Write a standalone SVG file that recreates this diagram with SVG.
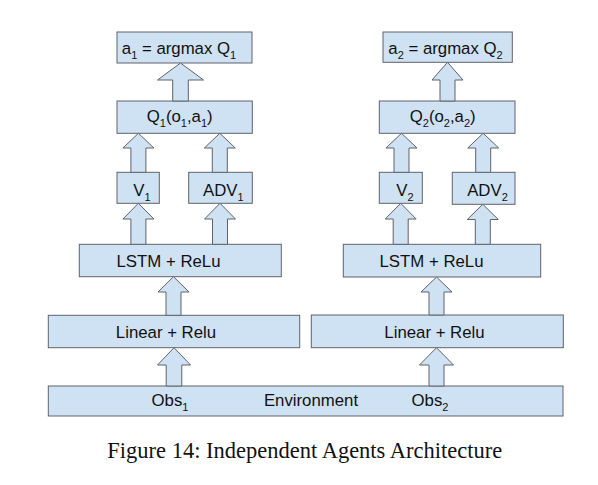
<svg xmlns="http://www.w3.org/2000/svg" width="598" height="485" viewBox="0 0 598 485">
<style>
.box{fill:#cfe2f3;stroke:#5f6368;stroke-width:1}
.arr{fill:#cfe2f3;stroke:#5f6368;stroke-width:1;stroke-linejoin:miter}
.t{font-family:"Liberation Sans",Arial,sans-serif;font-size:16.8px;fill:#111;text-anchor:middle}
.s{font-size:11px}
.cap{font-family:"Liberation Serif","Times New Roman",serif;font-size:22.5px;fill:#111}
</style>
<rect width="598" height="485" fill="#fff"/>
<g id="env"><rect class="box" x="48.3" y="386" width="514.7" height="30"/>
<text class="t" x="170" y="406">Obs<tspan class="s" dy="5">1</tspan></text>
<text class="t" x="311" y="406">Environment</text>
<text class="t" x="430" y="406">Obs<tspan class="s" dy="5">2</tspan></text></g>
<g id="linear1"><rect class="box" x="48.3" y="315.3" width="251.4" height="32.4"/><text class="t" x="166" y="338">Linear + Relu</text></g>
<g id="linear2"><rect class="box" x="311.3" y="315" width="252" height="32.7"/><text class="t" x="434.5" y="338">Linear + Relu</text></g>
<g id="lstm1"><rect class="box" x="79.3" y="244.3" width="202" height="32.4"/><text class="t" x="168.5" y="267">LSTM + ReLu</text></g>
<g id="lstm2"><rect class="box" x="343.3" y="244.3" width="197.4" height="32.7"/><text class="t" x="431.5" y="267">LSTM + ReLu</text></g>
<g id="v1"><rect class="box" x="117" y="172.3" width="42.3" height="31"/><text class="t" x="142" y="196">V<tspan class="s" dy="5">1</tspan></text></g>
<g id="adv1"><rect class="box" x="188.7" y="172.3" width="63.6" height="31"/><text class="t" x="223.3" y="196">ADV<tspan class="s" dy="5">1</tspan></text></g>
<g id="v2"><rect class="box" x="379.3" y="172.3" width="43" height="31"/><text class="t" x="405" y="196">V<tspan class="s" dy="5">2</tspan></text></g>
<g id="adv2"><rect class="box" x="452.3" y="172.3" width="62.7" height="32"/><text class="t" x="487.5" y="196">ADV<tspan class="s" dy="5">2</tspan></text></g>
<g id="q1"><rect class="box" x="117" y="101" width="135.3" height="32.3"/><text class="t" x="179.7" y="122">Q<tspan class="s" dy="5">1</tspan><tspan dy="-5">(o</tspan><tspan class="s" dy="5">1</tspan><tspan dy="-5">,a</tspan><tspan class="s" dy="5">1</tspan><tspan dy="-5">)</tspan></text></g>
<g id="q2"><rect class="box" x="379.3" y="101" width="135.7" height="32.3"/><text class="t" x="442.7" y="122">Q<tspan class="s" dy="5">2</tspan><tspan dy="-5">(o</tspan><tspan class="s" dy="5">2</tspan><tspan dy="-5">,a</tspan><tspan class="s" dy="5">2</tspan><tspan dy="-5">)</tspan></text></g>
<g id="a1"><rect class="box" x="117" y="32" width="135" height="31"/><text class="t" x="179" y="53.5">a<tspan class="s" dy="5">1</tspan><tspan dy="-5"> = argmax Q</tspan><tspan class="s" dy="5">1</tspan></text></g>
<g id="a2"><rect class="box" x="383" y="32" width="129.3" height="30.3"/><text class="t" x="445.5" y="53.5">a<tspan class="s" dy="5">2</tspan><tspan dy="-5"> = argmax Q</tspan><tspan class="s" dy="5">2</tspan></text></g>
<g id="connectors">
<polygon class="arr" points="180.5,63 203.5,80 188.3,80 188.3,101 172.7,101 172.7,80 157.5,80"/>
<polygon class="arr" points="447.5,62.3 463,80 455,80 455,101 440,101 440,80 432,80"/>
<polygon class="arr" points="138.4,133.3 153.9,148 145.9,148 145.9,172.3 130.9,172.3 130.9,148 122.9,148"/>
<polygon class="arr" points="219.8,133.3 235.3,148 227.3,148 227.3,172.3 212.3,172.3 212.3,148 204.3,148"/>
<polygon class="arr" points="401.5,133.3 417,148 409,148 409,172.3 394,172.3 394,148 386,148"/>
<polygon class="arr" points="483.2,133.3 498.7,148 490.7,148 490.7,172.3 475.7,172.3 475.7,148 467.7,148"/>
<polygon class="arr" points="138.4,203.3 153.9,219 145.9,219 145.9,244.3 130.9,244.3 130.9,219 122.9,219"/>
<polygon class="arr" points="220,203.3 235.5,219 227.5,219 227.5,244.3 212.5,244.3 212.5,219 204.5,219"/>
<polygon class="arr" points="400.7,203.3 416.2,219 408.2,219 408.2,244.3 393.2,244.3 393.2,219 385.2,219"/>
<polygon class="arr" points="482.8,204.3 498.3,219.5 490.3,219.5 490.3,244.3 475.3,244.3 475.3,219.5 467.3,219.5"/>
<polygon class="arr" points="173.5,276.7 189,292 181,292 181,315.3 166,315.3 166,292 158,292"/>
<polygon class="arr" points="436.5,277 452,292 444,292 444,315 429,315 429,292 421,292"/>
<polygon class="arr" points="174,347.7 190.5,365 181.8,365 181.8,386 166.2,386 166.2,365 157.5,365"/>
<polygon class="arr" points="436.5,347.7 453.5,365 444,365 444,386 429,386 429,365 419.5,365"/>
</g>
<text class="cap" x="107.3" y="458.3">Figure 14: Independent Agents Architecture</text>
</svg>
